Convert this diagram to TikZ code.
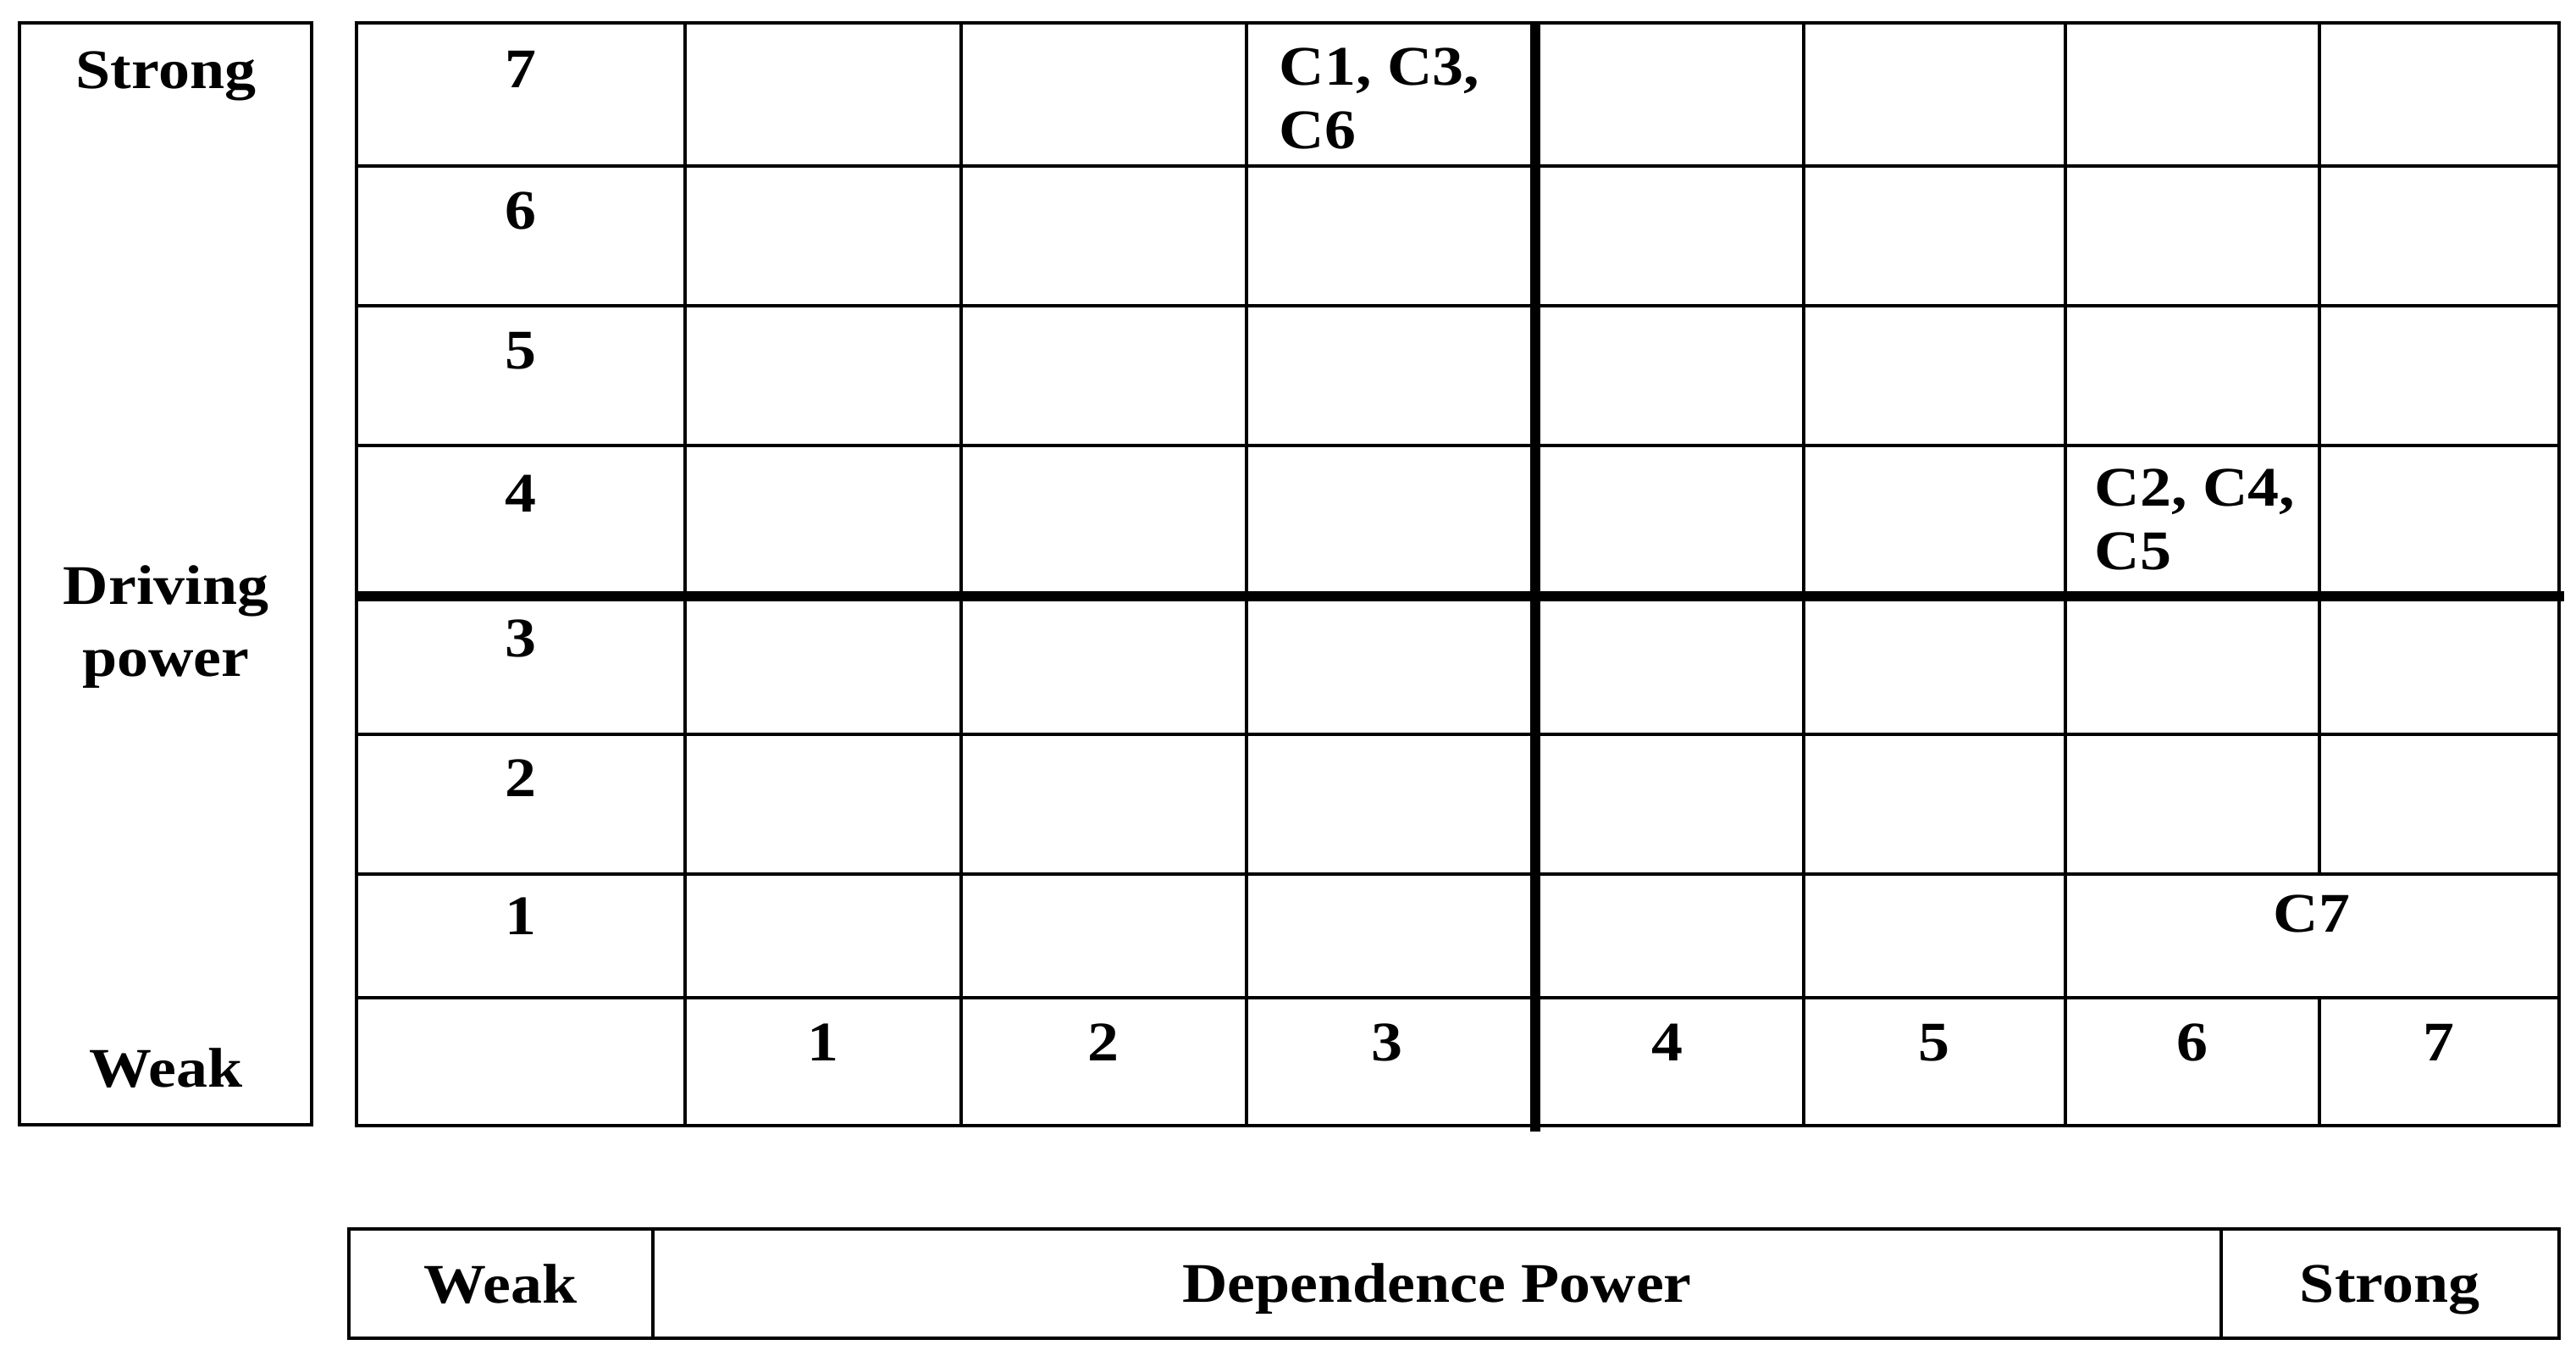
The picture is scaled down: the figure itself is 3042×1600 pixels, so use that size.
\documentclass[tikz,border=0pt]{standalone}
\usepackage{fontspec}
\setmainfont{Liberation Serif}[FakeStretch=1.12]
\begin{document}
\begin{tikzpicture}[x=0.25pt,y=-0.25pt,
  frame/.style={line width=0.9pt},
  gridln/.style={line width=0.8pt},
  axisln/.style={line width=3pt},
  lbl/.style={font=\fontsize{16.5}{19}\selectfont\bfseries, inner sep=0pt, anchor=base},
  lblw/.style={lbl, anchor=base west}]
\useasboundingbox (0,0) rectangle (3042,1600);
\fill[white] (0,0) rectangle (3042,1600);
% left axis box
\draw[frame] (23,27) rectangle (368,1328);
% main grid
\draw[frame] (421,27) rectangle (3022,1329);
\foreach \y in {196,361,526,867,1032,1178} \draw[gridln] (421,\y) -- (3022,\y);
\foreach \x in {809,1135,1472,2130,2439} \draw[gridln] (\x,27) -- (\x,1329);
\draw[gridln] (2739,27) -- (2739,1032);
\draw[gridln] (2739,1178) -- (2739,1329);
\draw[axisln] (421,704) -- (3028,704);
\draw[axisln] (1813,27) -- (1813,1336);
% bottom axis box
\draw[frame] (412,1451) rectangle (3022,1580);
\draw[gridln] (771,1451) -- (771,1580);
\draw[gridln] (2623,1451) -- (2623,1580);
% left box texts
\node[lbl] (lstrong) at (196,104) {Strong};
\node[lbl] (ldriving) at (196,713) {Driving};
\node[lbl] (lpower) at (196,798) {power};
\node[lbl] (lweak) at (196,1283) {Weak};
% row labels
\node[lbl] (r7) at (615,103) {7};
\node[lbl] (r6) at (615,270) {6};
\node[lbl] (r5) at (615,435) {5};
\node[lbl] (r4) at (615,604) {4};
\node[lbl] (r3) at (615,775) {3};
\node[lbl] (r2) at (615,940) {2};
\node[lbl] (r1) at (615,1103) {1};
% column labels
\node[lbl] (c1) at (972,1252) {1};
\node[lbl] (c2) at (1303,1252) {2};
\node[lbl] (c3) at (1638,1252) {3};
\node[lbl] (c4) at (1969,1252) {4};
\node[lbl] (c5) at (2284,1252) {5};
\node[lbl] (c6) at (2589,1252) {6};
\node[lbl] (c7) at (2880,1252) {7};
% cluster entries
\node[lblw] (ga) at (1510,100) {C1, C3,};
\node[lblw] (gb) at (1510,175) {C6};
\node[lblw] (gc) at (2473,597) {C2, C4,};
\node[lblw] (gd) at (2473,672) {C5};
\node[lbl] (ge) at (2730,1100) {C7};
% bottom box texts
\node[lbl] (bweak) at (591,1538) {Weak};
\node[lbl] (bdep) at (1697,1537) {Dependence Power};
\node[lbl] (bstrong) at (2822,1537) {Strong};
\end{tikzpicture}
\end{document}
